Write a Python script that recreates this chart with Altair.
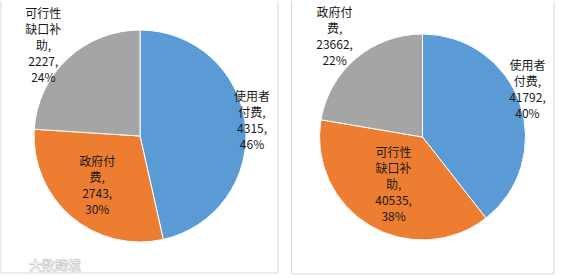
import altair as alt
import pandas as pd

# ---- data ----
left_names = ["使用者付费", "政府付费", "可行性缺口补助"]
left_values = [4315, 2743, 2227]
left_pcts = ["46%", "30%", "24%"]

right_names = ["使用者付费", "可行性缺口补助", "政府付费"]
right_values = [41792, 40535, 23662]
right_pcts = ["40%", "38%", "22%"]

slice_colors = ["#5B9BD5", "#ED7D31", "#A5A5A5"]
watermark = "大数跨境"

FONT = "Noto Sans CJK SC"
LH = 16


def wrap(name, n=3):
    return "\n".join(name[i:i + n] for i in range(0, len(name), n))


def make_df(names, values, pcts):
    return pd.DataFrame({
        "idx": list(range(len(names))),
        "name": names,
        "value": values,
        "label": [f"{wrap(n)},\n{v},\n{p}" for n, v, p in zip(names, values, pcts)],
    })


def pie(df, w, h, outer, label_r, label_da, bx0, bx1, by):
    """label_r: label distance from centre (px); label_da: angle nudge (degrees)."""
    base = alt.Chart(df)
    arcs = base.mark_arc(outerRadius=outer, stroke="white", strokeWidth=1).encode(
        theta=alt.Theta("value:Q", stack=True),
        order=alt.Order("idx:Q", sort="ascending"),
        color=alt.Color("idx:N", scale=alt.Scale(domain=[0, 1, 2], range=slice_colors), legend=None),
    )
    texts = base.transform_joinaggregate(
        total="sum(value)"
    ).transform_window(
        cum="sum(value)", sort=[alt.SortField("idx", order="ascending")], frame=[None, 0]
    ).transform_calculate(
        mid=f"(datum.cum - datum.value / 2) / datum.total * 2 * PI + {label_da}[datum.idx] * PI / 180",
        r=f"{label_r}[datum.idx]",
        n="length(split(datum.label, '\\n'))",
    ).transform_calculate(
        px=f"{w / 2} + datum.r * sin(datum.mid)",
        py=f"{h / 2} - datum.r * cos(datum.mid) - (datum.n - 1) * {LH / 2}",
    ).mark_text(
        font=FONT, fontSize=12, lineBreak="\n", lineHeight=LH,
        align="center", baseline="middle", color="#1a1a1a",
    ).encode(
        x=alt.X("px:Q", scale=None),
        y=alt.Y("py:Q", scale=None),
        text="label:N",
    )
    one = alt.Data(values=[{}])
    bc = "#d9d9d9"
    b1 = alt.Chart(one).mark_rule(color=bc, strokeWidth=1).encode(
        x=alt.value(bx0), y=alt.value(0), y2=alt.value(by))
    b2 = alt.Chart(one).mark_rule(color=bc, strokeWidth=1).encode(
        x=alt.value(bx1), y=alt.value(0), y2=alt.value(by))
    b3 = alt.Chart(one).mark_rule(color=bc, strokeWidth=1).encode(
        x=alt.value(bx0), x2=alt.value(bx1), y=alt.value(by))
    return alt.layer(arcs, texts, b1, b2, b3).properties(width=w, height=h)


left = pie(make_df(left_names, left_values, left_pcts), 280, 270, 106,
           [113, 66, 132], [-1.1, 0, -3.9], 1, 278, 272)
wm = alt.Chart(alt.Data(values=[{}])).mark_text(
    font=FONT, fontSize=13, fontWeight="bold", align="left", baseline="middle",
    color="#ffffff", stroke="#c4c4c4", strokeWidth=0.6
).encode(x=alt.value(29), y=alt.value(265), text=alt.value(watermark))
left = alt.layer(left, wm)

right = pie(make_df(right_names, right_values, right_pcts), 263, 272, 103,
            [115, 56, 133], [-5.1, 0.3, -1.2], 0.5, 263, 273)

chart = alt.hconcat(left, right, spacing=11).properties(
    padding=0, background="white"
).configure_view(stroke=None)

chart.save("out.html", embed_options={"renderer": "svg", "actions": False})
